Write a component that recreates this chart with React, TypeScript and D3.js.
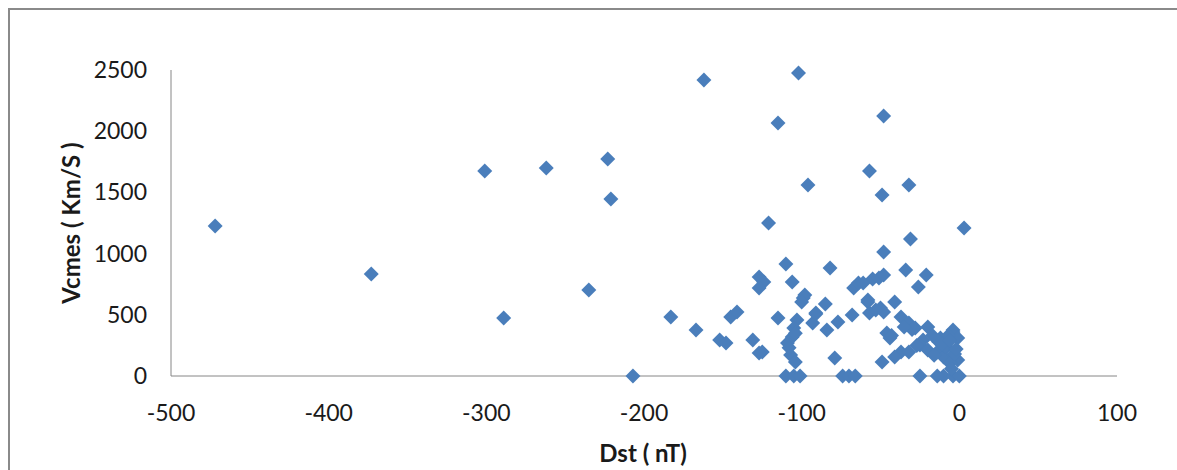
import React from "react";
import * as d3 from "d3";

// Dst (nT) and Vcmes (km/s)
const dstValues: number[] = [
  -472, -373, -301, -289, -262, -235, -223, -221, -207, -162,
  -183, -167, -152, -148, -145, -141, -131, -102, -115, -48,
  -57, -96, -32, -49, -121, 3, -31, -48, -110, -82,
  -127, -124, -127, -106, -99, -98, -100, -85, -67, -64,
  -55, -51, -48, -34, -21, -26, -58, -57, -50, -41,
  -37, -32, -20, -4, -115, -103, -91, -77, -84, -93,
  -105, -68, -106, -109, -125, -107, -104, -79, -110, -105,
  -101, -74, -70, -66, -127, -48, -28, -46, -44, -23,
  -25, -20, -12, -4, -1, -8, -14, -10, -4, -1,
  -6, -37, -41, -32, -49, -25, -10, -4, 0, -14,
  -13, -9, -7, -3, -5, -91, -104, -108, -58, -61,
  -27, -30, -16, -11, -2, -6, -17, -35, -53, -43,
];
const vcmeValues: number[] = [
  1225, 833, 1675, 474, 1699, 703, 1773, 1446, 0, 2418,
  482, 376, 294, 270, 482, 523, 294, 2475, 2067, 2124,
  1675, 1560, 1560, 1479, 1250, 1209, 1119, 1013, 915, 882,
  809, 768, 719, 768, 637, 662, 605, 588, 719, 760,
  793, 800, 825, 866, 825, 727, 605, 515, 556, 605,
  482, 433, 400, 376, 474, 457, 515, 441, 376, 433,
  392, 498, 319, 270, 196, 172, 114, 147, 0, 0,
  0, 0, 0, 0, 188, 523, 392, 351, 310, 294,
  253, 212, 310, 359, 310, 237, 196, 155, 172, 131,
  106, 196, 155, 196, 114, 0, 0, 0, 0, 0,
  278, 240, 330, 180, 60, 507, 350, 230, 621, 760,
  250, 380, 170, 260, 220, 290, 330, 400, 540, 330,
];
const xTicks: number[] = [-500, -400, -300, -200, -100, 0, 100];
const yTicks: number[] = [0, 500, 1000, 1500, 2000, 2500];

const xTitle = "Dst ( nT)";
const yTitle = "Vcmes ( Km/S )";

export default function App() {
  const W = 1177;
  const H = 470;
  const left = 171;
  const right = 1117;
  const top = 70;
  const bottom = 376;

  const x = d3.scaleLinear().domain([-500, 100]).range([left, right]);
  const y = d3.scaleLinear().domain([0, 2500]).range([bottom, top]);
  const diamond = d3.symbol().type(d3.symbolSquare).size(112)();
  const points = dstValues.map((d, i) => [d, vcmeValues[i]] as [number, number]);
  const font = "Lato, 'Open Sans', sans-serif";

  return (
    <svg
      width={W}
      height={H}
      style={{ position: "absolute", left: 0, top: 0, background: "#fff" }}
    >
      <rect x={0} y={0} width={W} height={H} fill="#fff" />
      <rect x={9} y={9} width={W + 20} height={H + 20} fill="none" stroke="#8a8a8a" strokeWidth={2} />
      <line x1={left} x2={left} y1={top} y2={bottom} stroke="#868686" strokeWidth={1} />
      <line x1={left} x2={right} y1={bottom} y2={bottom} stroke="#868686" strokeWidth={1} />
      {yTicks.map((t) => (
        <text
          key={"y" + t}
          x={147}
          y={y(t) - 1}
          textAnchor="end"
          dominantBaseline="central"
          fontFamily={font}
          fontSize={23}
          fill="#1a1a1a"
        >
          {t}
        </text>
      ))}
      {xTicks.map((t) => (
        <text
          key={"x" + t}
          x={x(t)}
          y={412}
          textAnchor="middle"
          dominantBaseline="central"
          fontFamily={font}
          fontSize={23}
          fill="#1a1a1a"
        >
          {t}
        </text>
      ))}
      <text
        x={643}
        y={452}
        textAnchor="middle"
        dominantBaseline="central"
        fontFamily={font}
        fontSize={24}
        fontWeight="bold"
        fill="#1a1a1a"
      >
        {xTitle}
      </text>
      <text
        transform={`translate(70,223) rotate(-90)`}
        textAnchor="middle"
        dominantBaseline="central"
        fontFamily={font}
        fontSize={24}
        fontWeight="bold"
        fill="#1a1a1a"
      >
        {yTitle}
      </text>
      {points.map((p, i) => (
        <path
          key={i}
          d={diamond}
          transform={`translate(${x(p[0])},${y(p[1])}) rotate(45)`}
          fill="#4a7ebb"
        />
      ))}
    </svg>
  );
}
